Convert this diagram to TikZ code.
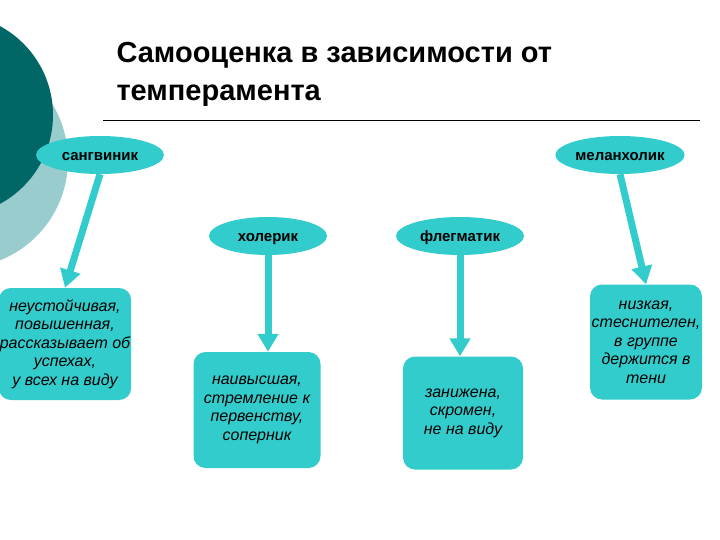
\documentclass[tikz,border=0pt]{standalone}
\usepackage{fontspec}
\setmainfont{Liberation Sans}
\usetikzlibrary{shapes.geometric,arrows.meta}
\definecolor{tq}{HTML}{33CCCC}
\definecolor{dk}{HTML}{006666}
\definecolor{lt}{HTML}{99CCCC}
\begin{document}
\begin{tikzpicture}[x=1pt,y=-1pt,
 oval/.style={ellipse,fill=tq,minimum width=128pt,minimum height=38pt,inner sep=1pt,text height=11pt,text depth=0pt,font=\bfseries\fontsize{15}{17}\selectfont},
 box/.style={rounded corners=12pt,fill=tq,align=center,font=\itshape\fontsize{16}{18.5}\selectfont,inner sep=1pt},
 arr/.style={draw=tq,line width=7pt,-{Triangle[width=20pt,length=18pt]}}]
\useasboundingbox (0,0) rectangle (720,540);
\begin{scope}
\clip (0,0) rectangle (720,540);
\fill[lt] (-40,160) circle (108);
\fill[dk] (-48,115) circle (101);
\end{scope}
\node[anchor=west,font=\bfseries\fontsize{29}{38}\selectfont,align=left] (t) at (113,74) {Самооценка в зависимости от\\темперамента};
\draw (103,120) -- (700,120);
\node[oval] (s) at (100,155) {сангвиник};
\node[oval] (m) at (620,155) {меланхолик};
\node[oval,minimum width=118pt] (h) at (268,236) {холерик};
\node[oval] (f) at (460,236) {флегматик};
\node[box,minimum width=130pt,minimum height=112pt] (b1) at (65,344) {неустойчивая,\\повышенная,\\рассказывает об\\успехах,\\у всех на виду};
\node[box,minimum width=127pt,minimum height=116pt] (b2) at (257,410) {наивысшая,\\стремление к\\первенству,\\соперник};
\node[box,minimum width=120pt,minimum height=113pt] (b3) at (463,413) {занижена,\\скромен,\\не на виду};
\node[box,minimum width=112pt,minimum height=115pt] (b4) at (646,342) {низкая,\\стеснителен,\\в группе\\держится в\\тени};
\draw[arr] (s.south) -- (b1.north);
\draw[arr] (h.south) -- (h.south |- b2.north);
\draw[arr] (f.south) -- (f.south |- b3.north);
\draw[arr] (m.south) -- (b4.north);
\end{tikzpicture}
\end{document}
